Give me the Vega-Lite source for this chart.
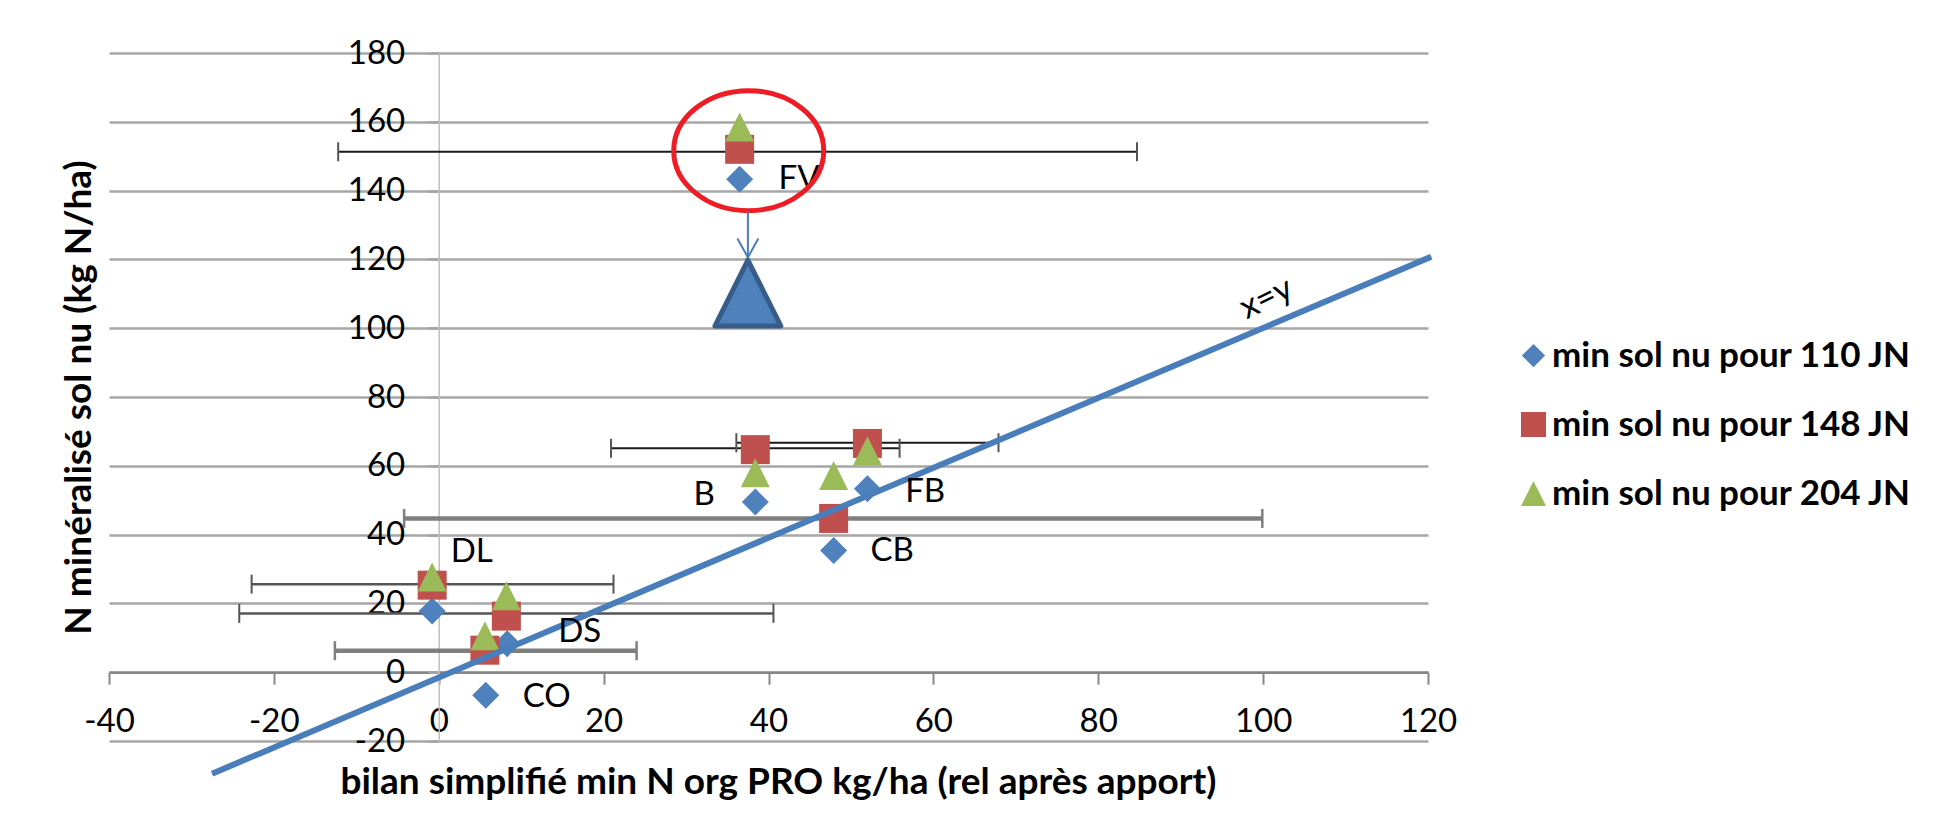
{
  "$schema": "https://vega.github.io/schema/vega-lite/v6.json",
  "width": 1319,
  "height": 688,
  "autosize": {"type": "none"},
  "padding": {"left": 109, "top": 53, "right": 507, "bottom": 94},
  "background": "white",
  "config": {"view": {"stroke": null}, "font": "Lato"},
  "datasets": {
    "points": [
      {"site": "FV", "serie": "min sol nu pour 110 JN", "x": 36.5, "y": 143.3},
      {"site": "B", "serie": "min sol nu pour 110 JN", "x": 38.4, "y": 49.5},
      {"site": "FB", "serie": "min sol nu pour 110 JN", "x": 52.0, "y": 53.3},
      {"site": "CB", "serie": "min sol nu pour 110 JN", "x": 47.9, "y": 35.4},
      {"site": "DL", "serie": "min sol nu pour 110 JN", "x": -0.8, "y": 17.8},
      {"site": "DS", "serie": "min sol nu pour 110 JN", "x": 8.3, "y": 8.3},
      {"site": "CO", "serie": "min sol nu pour 110 JN", "x": 5.7, "y": -6.7},
      {"site": "FV", "serie": "min sol nu pour 148 JN", "x": 36.5, "y": 152.0},
      {"site": "B", "serie": "min sol nu pour 148 JN", "x": 38.4, "y": 64.7},
      {"site": "FB", "serie": "min sol nu pour 148 JN", "x": 52.0, "y": 66.5},
      {"site": "CB", "serie": "min sol nu pour 148 JN", "x": 47.9, "y": 44.7},
      {"site": "DL", "serie": "min sol nu pour 148 JN", "x": -0.8, "y": 25.3},
      {"site": "DS", "serie": "min sol nu pour 148 JN", "x": 8.2, "y": 16.3},
      {"site": "CO", "serie": "min sol nu pour 148 JN", "x": 5.6, "y": 6.4},
      {"site": "FV", "serie": "min sol nu pour 204 JN", "x": 36.5, "y": 158.5},
      {"site": "B", "serie": "min sol nu pour 204 JN", "x": 38.4, "y": 58.0},
      {"site": "FB", "serie": "min sol nu pour 204 JN", "x": 52.0, "y": 64.3},
      {"site": "CB", "serie": "min sol nu pour 204 JN", "x": 47.9, "y": 57.2},
      {"site": "DL", "serie": "min sol nu pour 204 JN", "x": -0.8, "y": 27.7},
      {"site": "DS", "serie": "min sol nu pour 204 JN", "x": 8.2, "y": 22.2},
      {"site": "CO", "serie": "min sol nu pour 204 JN", "x": 5.6, "y": 10.6}
    ],
    "bars": [
      {"site": "FV", "x": -12.2, "x2": 84.7, "y": 151.3},
      {"site": "B", "x": 20.9, "x2": 55.9, "y": 65.1},
      {"site": "FB", "x": 36.1, "x2": 67.9, "y": 66.7},
      {"site": "CB", "x": -4.2, "x2": 99.9, "y": 44.7},
      {"site": "DL", "x": -22.7, "x2": 21.2, "y": 25.6},
      {"site": "DS", "x": -24.2, "x2": 40.6, "y": 17.1},
      {"site": "CO", "x": -12.6, "x2": 24.0, "y": 6.25}
    ],
    "labels": [
      {"site": "FV", "x": 43.7, "y": 143.3},
      {"site": "B", "x": 32.2, "y": 51.5},
      {"site": "FB", "x": 59.0, "y": 52.5},
      {"site": "CB", "x": 55.0, "y": 35.1},
      {"site": "DL", "x": 4.0, "y": 35.0},
      {"site": "DS", "x": 17.1, "y": 11.8},
      {"site": "CO", "x": 13.1, "y": -7.1}
    ],
    "diag": [{"x": -27.5, "y": -29.5}, {"x": 120.4, "y": 120.8}],
    "diagLabel": [{"x": 100.4, "y": 108.6, "text": "x=y"}],
    "focus": [{"x": 37.6, "y": 151.6}],
    "arrow": [{"x": 37.5, "y": 133.8, "y2": 120.8}],
    "arrowHead": [{"x": 37.5, "y": 120.6}],
    "target": [{"x": 37.5, "y": 110.2}]
  },
  "encoding": {
    "x": {
      "field": "x",
      "type": "quantitative",
      "scale": {"domain": [-40, 120], "nice": false, "zero": false},
      "axis": {
        "title": "bilan simplifié min N org PRO kg/ha (rel après apport)",
        "values": [-40, -20, 0, 20, 40, 60, 80, 100, 120],
        "labelExpr": "toString(datum.value)",
        "offset": -68.8,
        "grid": false,
        "domainColor": "#868686",
        "domainWidth": 2.5,
        "tickColor": "#868686",
        "tickSize": 12,
        "tickWidth": 2,
        "labelFont": "Lato",
        "labelFontSize": 33,
        "labelColor": "#000000",
        "labelBaseline": "middle",
        "labelPadding": 37,
        "labelFlush": false,
        "labelOverlap": false,
        "labelBound": false,
        "titleFont": "Lato",
        "titleFontSize": 37,
        "titleFontWeight": "bold",
        "titleColor": "#000000",
        "titleX": 669,
        "titleY": 110,
        "titleBaseline": "middle",
        "titleAlign": "center"
      }
    },
    "y": {
      "field": "y",
      "type": "quantitative",
      "scale": {"domain": [-20, 180], "nice": false, "zero": false},
      "axis": {
        "title": "N minéralisé sol nu (kg N/ha)",
        "values": [-20, 0, 20, 40, 60, 80, 100, 120, 140, 160, 180],
        "labelExpr": "toString(datum.value)",
        "offset": -329.7,
        "grid": true,
        "gridColor": "#a6a6a6",
        "gridWidth": 2.5,
        "domainColor": "#bfbfbf",
        "domainWidth": 1.5,
        "tickColor": "#a6a6a6",
        "tickSize": 11,
        "tickWidth": 2.5,
        "labelFont": "Lato",
        "labelFontSize": 33,
        "labelColor": "#000000",
        "labelPadding": 23,
        "labelFlush": false,
        "labelOverlap": false,
        "labelBound": false,
        "titleFont": "Lato",
        "titleFontSize": 37,
        "titleFontWeight": "bold",
        "titleColor": "#000000",
        "titleX": -359,
        "titleY": 344,
        "titleAngle": 270,
        "titleBaseline": "middle",
        "titleAlign": "center"
      }
    }
  },
  "layer": [
    {
      "data": {"name": "bars"},
      "transform": [{"filter": {"field": "site", "oneOf": ["FV", "B", "FB"]}}],
      "mark": {"type": "rule", "color": "#1a1a1a", "strokeWidth": 1.8},
      "encoding": {"x2": {"field": "x2"}}
    },
    {
      "data": {"name": "bars"},
      "transform": [{"filter": {"field": "site", "oneOf": ["FV", "B", "FB"]}}],
      "mark": {"type": "tick", "orient": "vertical", "color": "#555555", "size": 19, "thickness": 2, "opacity": 1}
    },
    {
      "data": {"name": "bars"},
      "transform": [{"filter": {"field": "site", "oneOf": ["FV", "B", "FB"]}}],
      "mark": {"type": "tick", "orient": "vertical", "color": "#555555", "size": 19, "thickness": 2, "opacity": 1},
      "encoding": {"x": {"field": "x2", "type": "quantitative"}}
    },
    {
      "data": {"name": "bars"},
      "transform": [{"filter": {"field": "site", "oneOf": ["DL", "DS"]}}],
      "mark": {"type": "rule", "color": "#555555", "strokeWidth": 2.5},
      "encoding": {"x2": {"field": "x2"}}
    },
    {
      "data": {"name": "bars"},
      "transform": [{"filter": {"field": "site", "oneOf": ["DL", "DS"]}}],
      "mark": {"type": "tick", "orient": "vertical", "color": "#555555", "size": 19, "thickness": 2, "opacity": 1}
    },
    {
      "data": {"name": "bars"},
      "transform": [{"filter": {"field": "site", "oneOf": ["DL", "DS"]}}],
      "mark": {"type": "tick", "orient": "vertical", "color": "#555555", "size": 19, "thickness": 2, "opacity": 1},
      "encoding": {"x": {"field": "x2", "type": "quantitative"}}
    },
    {
      "data": {"name": "bars"},
      "transform": [{"filter": {"field": "site", "oneOf": ["CB", "CO"]}}],
      "mark": {"type": "rule", "color": "#7f7f7f", "strokeWidth": 4.5},
      "encoding": {"x2": {"field": "x2"}}
    },
    {
      "data": {"name": "bars"},
      "transform": [{"filter": {"field": "site", "oneOf": ["CB", "CO"]}}],
      "mark": {"type": "tick", "orient": "vertical", "color": "#7f7f7f", "size": 19, "thickness": 2.5, "opacity": 1}
    },
    {
      "data": {"name": "bars"},
      "transform": [{"filter": {"field": "site", "oneOf": ["CB", "CO"]}}],
      "mark": {"type": "tick", "orient": "vertical", "color": "#7f7f7f", "size": 19, "thickness": 2.5, "opacity": 1},
      "encoding": {"x": {"field": "x2", "type": "quantitative"}}
    },
    {
      "data": {"name": "points"},
      "mark": {"type": "point", "filled": true, "opacity": 1, "size": 841, "strokeWidth": 0},
      "encoding": {
        "color": {
          "field": "serie",
          "type": "nominal",
          "scale": {
            "domain": ["min sol nu pour 110 JN", "min sol nu pour 148 JN", "min sol nu pour 204 JN"],
            "range": ["#4f81bd", "#c0504d", "#9bbb59"]
          },
          "legend": {
            "title": null,
            "orient": "none",
            "legendX": 1407,
            "legendY": 285,
            "labelFont": "Lato",
            "labelFontSize": 35,
            "labelFontWeight": "bold",
            "labelColor": "#000000",
            "labelOffset": 1,
            "symbolSize": 625,
            "symbolStrokeWidth": 0,
            "symbolOpacity": 1,
            "rowPadding": 33,
            "padding": 0,
            "labelLimit": 600
          }
        },
        "shape": {
          "field": "serie",
          "type": "nominal",
          "scale": {
            "domain": ["min sol nu pour 110 JN", "min sol nu pour 148 JN", "min sol nu pour 204 JN"],
            "range": ["M0,-0.93L0.93,0L0,0.93L-0.93,0Z", "M-1,-1L1,-1L1,1L-1,1Z", "M0,-1L1,1L-1,1Z"]
          },
          "legend": {
            "title": null,
            "orient": "none",
            "legendX": 1407,
            "legendY": 285,
            "labelFont": "Lato",
            "labelFontSize": 35,
            "labelFontWeight": "bold",
            "labelColor": "#000000",
            "labelOffset": 1,
            "symbolSize": 625,
            "symbolStrokeWidth": 0,
            "symbolOpacity": 1,
            "rowPadding": 33,
            "padding": 0,
            "labelLimit": 600
          }
        }
      }
    },
    {
      "data": {"name": "diag"},
      "mark": {"type": "line", "color": "#4a7ebb", "strokeWidth": 6, "strokeCap": "butt", "clip": false},
      "encoding": {}
    },
    {
      "data": {"name": "labels"},
      "mark": {"type": "text", "font": "Lato", "fontSize": 33, "color": "#000000", "align": "center", "baseline": "middle"},
      "encoding": {"text": {"field": "site"}}
    },
    {
      "data": {"name": "diagLabel"},
      "mark": {"type": "text", "font": "Lato", "fontSize": 34, "color": "#000000", "align": "center", "baseline": "middle", "angle": 334},
      "encoding": {"text": {"field": "text"}}
    },
    {
      "data": {"name": "focus"},
      "mark": {
        "type": "point",
        "shape": "M-1,0A1,0.8,0,1,0,1,0A1,0.8,0,1,0,-1,0Z",
        "size": 22500,
        "filled": false,
        "color": "#ee1c25",
        "strokeWidth": 5,
        "opacity": 1
      }
    },
    {
      "data": {"name": "arrow"},
      "mark": {"type": "rule", "color": "#4a7ebb", "strokeWidth": 2},
      "encoding": {"y2": {"field": "y2"}}
    },
    {
      "data": {"name": "arrowHead"},
      "mark": {
        "type": "point",
        "shape": "M-1,-1.8L0,0L1,-1.8",
        "size": 441,
        "filled": false,
        "color": "#4a7ebb",
        "strokeWidth": 2,
        "opacity": 1
      }
    },
    {
      "data": {"name": "target"},
      "mark": {
        "type": "point",
        "shape": "M0,-1L1,1L-1,1Z",
        "size": 4356,
        "filled": true,
        "fill": "#4f81bd",
        "stroke": "#385d8a",
        "strokeWidth": 5,
        "strokeJoin": "round",
        "opacity": 1
      }
    }
  ]
}
